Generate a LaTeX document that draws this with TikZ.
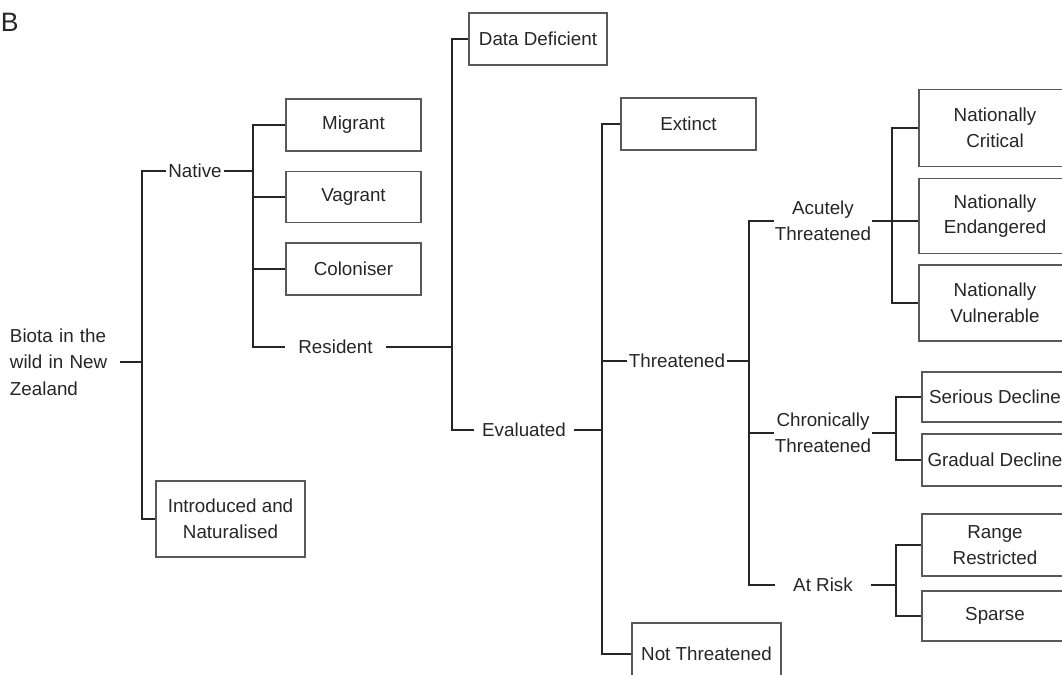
\documentclass[tikz,border=0pt]{standalone}
\usepackage{fontspec}
\setmainfont{Liberation Sans}
\usetikzlibrary{calc}
\colorlet{boxline}{black!65}
\colorlet{treeline}{black!85}
\tikzset{
  leaf/.style={draw=boxline, line width=0.7pt, inner sep=0pt, align=center},
  lbl/.style={inner sep=0pt, align=center, minimum width=#1},
}

\begin{document}
\begin{tikzpicture}[x=0.5pt, y=-0.5pt, color=treeline, line width=1pt,
    every node/.style={font=\fontsize{9.4}{12.8}\selectfont}]
  \useasboundingbox (0,0) rectangle (1062,675);
  \clip (0,0) rectangle (1062,675);
  % Panel letter
  \node[anchor=west, inner sep=0pt, font=\fontsize{13.3}{15}\selectfont] (panel) at (0,22) {B};
  % Root
  \node[anchor=west, inner sep=0pt, align=left, text width=54.5pt, font=\fontsize{9.4}{13.2}\selectfont] (biota) at (9,362)
    {Biota in the\\wild in New\\Zealand};
  % Labels on the branches
  \node[lbl=28pt] (native) at (195,171) {Native};
  \node[lbl=49.5pt] (resident) at (335.5,347) {Resident};
  \node[lbl=49pt] (evaluated) at (524,430) {Evaluated};
  \node[lbl=49pt] (threatened) at (677,361) {Threatened};
  \node[lbl=47pt] (acute) at (823,221) {Acutely\\Threatened};
  \node[lbl=47pt] (chronic) at (823,433) {Chronically\\Threatened};
  \node[lbl=47pt] (atrisk) at (823,585) {At Risk};
  % Boxes
  \node[leaf, minimum width=67.5pt, minimum height=26pt] (migrant) at (353.5,125) {Migrant};
  \node[leaf, minimum width=67.5pt, minimum height=25.5pt] (vagrant) at (353.5,197) {Vagrant};
  \node[leaf, minimum width=67.5pt, minimum height=26pt] (colon) at (353.5,269) {Coloniser};
  \node[leaf, minimum width=74.5pt, minimum height=38pt] (intro) at (230.5,519) {Introduced and\\Naturalised};
  \node[leaf, minimum width=69pt, minimum height=26pt] (datadef) at (538,39) {Data Deficient};
  \node[leaf, minimum width=67.5pt, minimum height=26pt] (extinct) at (688.5,124) {Extinct};
  \node[leaf, minimum width=74.5pt, minimum height=31pt] (notthr) at (706.5,654) {Not Threatened};
  \node[leaf, minimum width=76pt, minimum height=38.5pt] (natcrit) at (995,128) {Nationally\\Critical};
  \node[leaf, minimum width=76pt, minimum height=37.5pt] (natend) at (995,216) {Nationally\\Endangered};
  \node[leaf, minimum width=76pt, minimum height=38pt] (natvul) at (995,303) {Nationally\\Vulnerable};
  \node[leaf, minimum width=73pt, minimum height=25pt] (serious) at (995,397) {Serious Decline};
  \node[leaf, minimum width=73pt, minimum height=26pt] (gradual) at (995,460) {Gradual Decline};
  \node[leaf, minimum width=73pt, minimum height=31pt] (range) at (995,545) {Range\\Restricted};
  \node[leaf, minimum width=73pt, minimum height=25pt] (sparse) at (995,616) {Sparse};
  % Vertical buses
  \coordinate (busBiota) at (142,0);
  \coordinate (busNative) at (253,0);
  \coordinate (busResident) at (452,0);
  \coordinate (busEval) at (602,0);
  \coordinate (busThr) at (749,0);
  \coordinate (busAcute) at (892,0);
  \coordinate (busChron) at (896,0);
  % Biota -> Native, Introduced
  \draw (biota.east) -- (biota.east -| busBiota);
  \draw (native.west) -- (native.west -| busBiota) -- (intro.west -| busBiota) -- (intro.west);
  % Native -> Migrant ... Resident
  \draw (native.east) -- (native.east -| busNative);
  \draw (migrant.west) -- (migrant.west -| busNative) -- (resident.west -| busNative) -- (resident.west);
  \foreach \kid in {vagrant, colon}
    \draw (\kid.west) -- (\kid.west -| busNative);
  % Resident -> Data Deficient, Evaluated
  \draw (resident.east) -- (resident.east -| busResident);
  \draw (datadef.west) -- (datadef.west -| busResident) -- (evaluated.west -| busResident) -- (evaluated.west);
  % Evaluated -> Extinct, Threatened, Not Threatened
  \draw (evaluated.east) -- (evaluated.east -| busEval);
  \draw (extinct.west) -- (extinct.west -| busEval) -- (notthr.west -| busEval) -- (notthr.west);
  \draw (threatened.west) -- (threatened.west -| busEval);
  % Threatened -> three groups
  \draw (threatened.east) -- (threatened.east -| busThr);
  \draw (acute.west) -- (acute.west -| busThr) -- (atrisk.west -| busThr) -- (atrisk.west);
  \draw (chronic.west) -- (chronic.west -| busThr);
  % Acutely Threatened (runs straight on into Endangered)
  \draw (acute.east) -- (acute.east -| natend.west);
  \draw (natcrit.west) -- (natcrit.west -| busAcute) -- (natvul.west -| busAcute) -- (natvul.west);
  % Chronically Threatened
  \draw (chronic.east) -- (chronic.east -| busChron);
  \draw (serious.west) -- (serious.west -| busChron) -- (gradual.west -| busChron) -- (gradual.west);
  % At Risk
  \draw (atrisk.east) -- (atrisk.east -| busChron);
  \draw (range.west) -- (range.west -| busChron) -- (sparse.west -| busChron) -- (sparse.west);
\end{tikzpicture}
\end{document}
